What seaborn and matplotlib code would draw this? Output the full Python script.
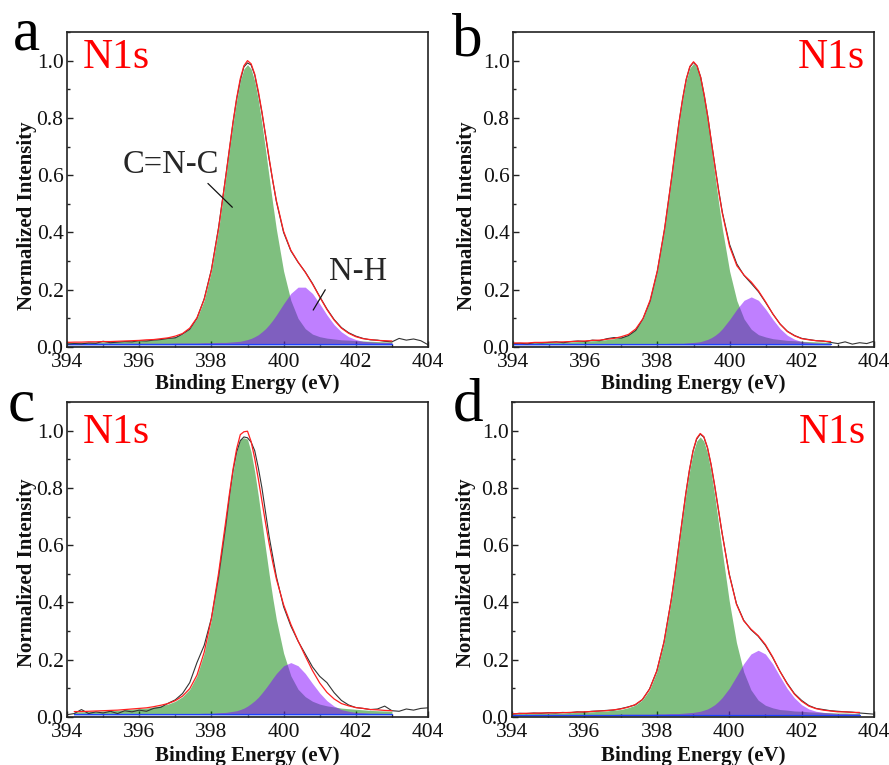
import numpy as np
import matplotlib
matplotlib.use("Agg")
import matplotlib.pyplot as plt
from matplotlib.ticker import MultipleLocator, FormatStrFormatter
import seaborn as sns

# ---------------- data ----------------
# binding-energy sampling: 0.2 eV, with 0.1 eV steps across the main peak
ENERGY = np.concatenate([np.linspace(394.0, 398.4, 23),
                         np.linspace(398.5, 399.7, 13),
                         np.linspace(399.8, 404.0, 22)])

# panel a
RAW_A = [.010, .012, .011, .014, .013, .020, .015, .017, .019, .018,
         .022, .021, .024, .026, .030, .032, .045, .062, .100, .168,
         .270, .418, .598,
         .690, .784, .866, .930, .978, .992, .985, .950, .888, .818, .738, .655, .580,
         .508, .400, .336, .296, .262, .222, .176, .133, .096, .068,
         .050, .038, .030, .025, .024, .020, .018, .030, .024, .028, .022, .008]
GREEN_A = [.004, .004, .004, .005, .005, .006, .006, .007, .008, .009,
           .010, .012, .013, .016, .019, .024, .033, .052, .088, .151,
           .253, .399, .581,
           .676, .768, .850, .917, .959, .974, .959, .917, .850, .768, .676, .581, .487,
           .399, .253, .151, .088, .052, .033, .024, .019, .016, .013,
           .012, .010, .009, .008, .007, .006, .006]
PURPLE_A = [.000, .001, .001, .001, .001, .001, .001, .001, .001, .001,
            .001, .001, .001, .001, .001, .002, .002, .002, .002, .003,
            .003, .004, .004,
            .005, .006, .007, .008, .011, .014, .018, .024, .031, .041, .052, .066, .082,
            .100, .139, .175, .197, .197, .175, .139, .100, .066, .041,
            .024, .014, .008, .006, .004, .004, .003]
BASE_A = 0.012
FIT_START_A = 0

# panel b
RAW_B = [.012, .013, .011, .015, .014, .016, .018, .015, .019, .021,
         .019, .024, .022, .029, .033, .031, .040, .058, .098, .160,
         .265, .412, .595,
         .690, .785, .866, .935, .978, .994, .980, .942, .876, .802, .712, .628, .545,
         .470, .358, .290, .250, .222, .193, .155, .115, .080, .055,
         .040, .030, .026, .022, .021, .016, .012, .018, .010, .015, .012, .020]
GREEN_B = [.004, .004, .004, .005, .005, .006, .006, .007, .008, .009,
           .010, .012, .013, .016, .019, .025, .033, .052, .088, .152,
           .255, .402, .584,
           .680, .773, .855, .922, .965, .980, .965, .922, .855, .773, .680, .584, .490,
           .402, .255, .152, .088, .052, .033, .025, .019, .016, .013,
           .012, .010, .009, .008, .007, .006]
PURPLE_B = [.000, .000, .000, .001, .001, .001, .001, .001, .001, .001,
            .001, .001, .001, .001, .001, .001, .001, .001, .001, .002,
            .002, .002, .003,
            .003, .003, .003, .004, .005, .006, .007, .009, .013, .017, .023, .031, .041,
            .054, .086, .122, .153, .165, .153, .122, .086, .054, .031,
            .017, .009, .006, .004, .003, .003]
BASE_B = 0.010
FIT_START_B = 0

# panel c
RAW_C = [.008, .012, .026, .012, .018, .014, .020, .012, .022, .018,
         .024, .020, .030, .034, .048, .060, .082, .120, .190, .250,
         .345, .490, .670,
         .770, .860, .925, .965, .978, .975, .960, .930, .870, .800, .715, .630, .560,
         .490, .385, .318, .265, .220, .175, .142, .120, .085, .058,
         .042, .033, .030, .026, .028, .038, .022, .020, .028, .024, .030, .032]
GREEN_C = [.008, .008, .009, .010, .011, .012, .013, .015, .017, .019,
           .021, .025, .029, .035, .045, .061, .087, .134, .213, .330,
           .488, .670,
           .762, .846, .915, .960, .965, .960, .915, .846, .762, .670, .578, .488, .405,
           .330, .213, .134, .087, .061, .045, .035, .029, .025, .021,
           .019, .017, .015, .013, .012, .011, .010]
PURPLE_C = [.001, .001, .001, .001, .001, .001, .001, .001, .001, .001,
            .001, .001, .002, .002, .002, .002, .002, .002, .003, .003,
            .005, .006,
            .008, .010, .012, .016, .021, .028, .037, .047, .059, .074, .090, .107, .125,
            .142, .169, .180, .169, .142, .107, .074, .047, .028, .016,
            .010, .006, .005, .003, .003, .002, .002]
BASE_C = 0.010
FIT_START_C = 1

# panel d
RAW_D = [.010, .013, .012, .014, .013, .015, .014, .016, .015, .018,
         .017, .020, .021, .023, .024, .029, .035, .042, .060, .098,
         .160, .262, .410,
         .495, .590, .684, .778, .860, .928, .970, .988, .977, .940, .880, .806, .725,
         .645, .500, .396, .338, .305, .282, .250, .208, .160, .118,
         .082, .058, .040, .030, .026, .022, .020, .018, .017, .014, .012, .010]
GREEN_D = [.003, .004, .004, .004, .005, .005, .006, .006, .007, .008,
           .009, .010, .012, .013, .016, .018, .024, .033, .051, .087,
           .150, .252, .398,
           .485, .578, .673, .765, .847, .913, .955, .970, .955, .913, .847, .765, .673,
           .578, .398, .252, .150, .087, .051, .033, .024, .018, .016,
           .013, .012, .010, .009, .008, .007, .006, .006, .005, .005]
PURPLE_D = [.000, .000, .001, .001, .001, .001, .001, .001, .001, .001,
            .001, .001, .001, .001, .001, .002, .002, .002, .002, .002,
            .003, .003, .004,
            .004, .004, .005, .006, .007, .008, .010, .012, .016, .020, .027, .035, .046,
            .059, .092, .134, .178, .212, .225, .212, .178, .134, .092,
            .059, .035, .020, .012, .008, .006, .004, .004, .003, .003]
BASE_D = 0.008
FIT_START_D = 0

X_TICKS = [394, 396, 398, 400, 402, 404]
Y_TICKS = [0.0, 0.2, 0.4, 0.6, 0.8, 1.0]
PANEL_LETTERS = ["a", "b", "c", "d"]
PEAK_TITLE = "N1s"
X_LABEL = "Binding Energy (eV)"
Y_LABEL = "Normalized Intensity"

# ---------------- style ----------------
sns.set_theme(style="ticks")
plt.rcParams["font.family"] = ["Liberation Serif", "DejaVu Serif"]
plt.rcParams["axes.linewidth"] = 1.2

W, H = 889, 765
fig = plt.figure(figsize=(W / 100, H / 100), dpi=100)


def frac_rect(left, top, right, bottom):
    return [left / W, 1 - bottom / H, (right - left) / W, (bottom - top) / H]


panels = [
    dict(raw=RAW_A, green=GREEN_A, purple=PURPLE_A, base=BASE_A, start=FIT_START_A,
         rect=frac_rect(67, 32, 428, 347), title=(0.044, 0.886, "left"),
         letter=(13, 50), ylab=(-0.083, 0.417), xlab=(0.5, -0.085)),
    dict(raw=RAW_B, green=GREEN_B, purple=PURPLE_B, base=BASE_B, start=FIT_START_B,
         rect=frac_rect(513, 32, 874, 347), title=(0.975, 0.886, "right"),
         letter=(452, 55), ylab=(-0.10, 0.417), xlab=(0.5, -0.085)),
    dict(raw=RAW_C, green=GREEN_C, purple=PURPLE_C, base=BASE_C, start=FIT_START_C,
         rect=frac_rect(67, 402, 428, 717), title=(0.044, 0.870, "left"),
         letter=(8, 420), ylab=(-0.083, 0.457), xlab=(0.5, -0.093)),
    dict(raw=RAW_D, green=GREEN_D, purple=PURPLE_D, base=BASE_D, start=FIT_START_D,
         rect=frac_rect(512, 402, 874, 717), title=(0.978, 0.870, "right"),
         letter=(453, 420), ylab=(-0.10, 0.457), xlab=(0.5, -0.093)),
]

axes = []
for i, pn in enumerate(panels):
    ax = fig.add_axes(pn["rect"])
    axes.append(ax)
    g = np.asarray(pn["green"])
    p = np.asarray(pn["purple"])
    n = len(g)
    xf = ENERGY[pn["start"]:pn["start"] + n]
    base = pn["base"]
    basel = np.full(n, base)

    ax.fill_between(xf, 0, basel, color="#7f9fe6", alpha=0.55, lw=0)
    ax.fill_between(xf, basel, basel + g, color="#008000", alpha=0.5, lw=0)
    ax.fill_between(xf, basel, basel + p, color="#8000ff", alpha=0.5, lw=0)
    sns.lineplot(x=xf, y=basel, ax=ax, color="#2040ff", lw=0.9)
    sns.lineplot(x=ENERGY, y=np.asarray(pn["raw"]), ax=ax, color="#333333", lw=0.8)
    sns.lineplot(x=xf, y=basel + g + p, ax=ax, color="#ff2020", lw=0.9)

    ax.set_xlim(394, 404)
    ax.set_ylim(0, 1.1)
    ax.set_xticks(X_TICKS)
    ax.set_yticks(Y_TICKS)
    ax.xaxis.set_minor_locator(MultipleLocator(1))
    ax.yaxis.set_minor_locator(MultipleLocator(0.1))
    ax.yaxis.set_major_formatter(FormatStrFormatter("%.1f"))
    ax.tick_params(which="both", direction="in", top=False, right=False,
                   color="#222222", width=1.0)
    ax.tick_params(which="major", length=4.5, labelsize=15.5,
                   labelcolor="#111111")
    ax.tick_params(axis="y", which="major", pad=2.5)
    ax.tick_params(axis="x", which="major", pad=4.5)
    ax.tick_params(which="minor", length=2.5)
    for s in ax.spines.values():
        s.set_color("#222222")
        s.set_linewidth(1.2)
        s.set_visible(True)

    ax.set_xlabel(X_LABEL, fontsize=15, fontweight="bold", color="#111111")
    ax.set_ylabel(Y_LABEL, fontsize=15, fontweight="bold", color="#111111")
    ax.xaxis.set_label_coords(*pn["xlab"])
    ax.yaxis.set_label_coords(*pn["ylab"])

    tx, ty, tha = pn["title"]
    ax.text(tx, ty, PEAK_TITLE, transform=ax.transAxes, color="red",
            fontsize=30, ha=tha, va="baseline")
    lx, ly = pn["letter"]
    fig.text(lx / W, 1 - ly / H, PANEL_LETTERS[i], fontsize=44,
             ha="left", va="baseline", color="black")

# peak labels in panel a
axa = axes[0]
axa.annotate("C=N-C", xy=(398.58, 0.488), xytext=(396.88, 0.607),
             fontsize=23.5, ha="center", va="baseline",
             arrowprops=dict(arrowstyle="-", color="#111111", lw=0.9,
                             relpos=(0.8, 0.15), shrinkA=0, shrinkB=0))
axa.annotate("N-H", xy=(400.82, 0.129), xytext=(402.05, 0.234),
             fontsize=23.5, ha="center", va="baseline",
             arrowprops=dict(arrowstyle="-", color="#111111", lw=0.9,
                             relpos=(0.05, 0.25), shrinkA=0, shrinkB=0))

fig.savefig("out.png", dpi=100)
